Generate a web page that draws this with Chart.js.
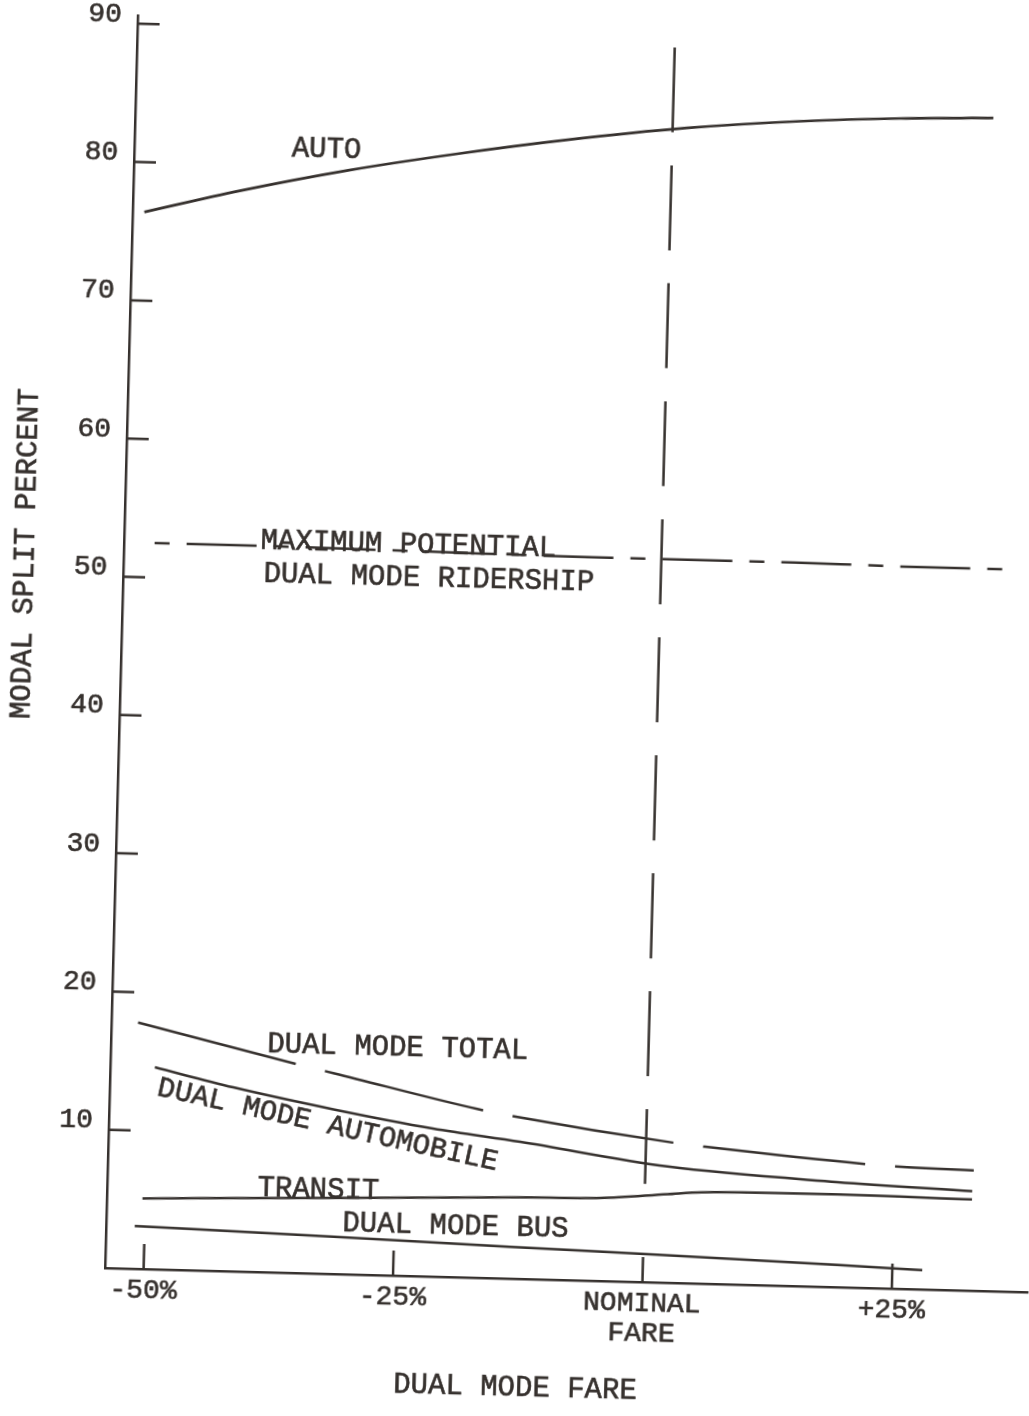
<!DOCTYPE html>
<html>
<head>
<meta charset="utf-8">
<script src="https://cdn.jsdelivr.net/npm/chart.js@4.4.1/dist/chart.umd.min.js"></script>
<style>
  html, body { margin: 0; padding: 0; background: #ffffff; width: 1029px; height: 1416px; overflow: hidden; }
  #wrap { position: absolute; left: -20px; top: 0; width: 1049px; height: 1416px;
          transform-origin: 125px 1268px; transform: rotate(1.5deg); }
  canvas { display: block; }
</style>
</head>
<body>
<div id="wrap"><canvas id="chart" width="1049" height="1416"></canvas></div>
<script>
// ---------------- data ----------------
// x = dual mode fare change in percent (0 = nominal fare), y = modal split percent
const xTickValues = [-50, -25, 0, 25];
const xTickLabels = ['-50%', '-25%', ['NOMINAL', 'FARE'], '+25%'];
const yTickValues = [10, 20, 30, 40, 50, 60, 70, 80, 90];

const autoX = [-52.7, -43.3, -32.4, -21.5, -10.7, 1.4, 12.7, 22.8, 32.1];
const autoY = [76.4, 78.1, 79.8, 81.2, 82.4, 83.5, 84.2, 84.6, 84.8];

const maxPotX = [-50.8, -43.7, -24.2, -6.9, 1.4, 13.3, 25.8, 34.9];
const maxPotY = [52.5, 52.5, 52.4, 52.3, 52.3, 52.3, 52.2, 52.2];

const totalX = [-51.2, -34.6, -31.4, -17.0, -13.9, 3.1, 5.9, 23.2, 26.2, 32.9];
const totalY = [17.8, 15.0, 14.5, 12.2, 11.8, 10.1, 9.9, 8.9, 8.8, 8.7];

const dmAutoX = [-49.4, -41.5, -31.4, -21.4, -12.6, 2.2, 19.2, 32.8];
const dmAutoY = [14.6, 13.3, 11.9, 10.7, 9.9, 8.4, 7.6, 7.2];

const transitX = [-50.3, -31.2, -12.5, -4.4, 2.3, 5.7, 19.3, 32.8];
const transitY = [5.1, 5.5, 5.9, 6.0, 6.4, 6.6, 6.7, 6.6];

const busX = [-51.0, -31.1, -13.4, 1.4, 19.5, 28.0];
const busY = [3.1, 2.7, 2.3, 2.0, 1.6, 1.4];

const nominalX = [0, 0];
const nominalY = [89.3, 7.1];

// curve annotations (text, anchor in data units, angle in degrees)
const noteTexts = ['AUTO', 'MAXIMUM POTENTIAL', 'DUAL MODE RIDERSHIP', 'DUAL MODE TOTAL',
                   'DUAL MODE AUTOMOBILE', 'TRANSIT', 'DUAL MODE BUS'];
const noteAt = [[-38.1, 80.7], [-40.2, 52.3], [-39.8, 49.9], [-38.2, 15.9],
                [-49.2, 12.6], [-38.8, 5.5], [-30.2, 3.1]];
const noteAngle = [0, 0, 0, 0, 11, 0, 0];

const xTitle = 'DUAL MODE FARE';
const yTitle = 'MODAL SPLIT PERCENT';

// ---------------- style ----------------
const INK = '#36312e';
const FAMILY = "'Liberation Mono', 'Courier New', monospace";
Chart.defaults.font.family = FAMILY;
Chart.defaults.color = INK;

const pts = (xs, ys) => xs.map((x, i) => ({ x: x, y: ys[i] }));

function line(label, xs, ys, dash, width) {
  return {
    label: label,
    data: pts(xs, ys),
    borderColor: INK,
    borderWidth: width || 2.5,
    borderDash: dash || [],
    pointRadius: 0,
    fill: false,
    cubicInterpolationMode: 'monotone',
    borderCapStyle: 'butt'
  };
}

function inkText(ctx, t, x, y) {
  ctx.fillText(t, x, y);
  ctx.strokeText(t, x, y);
}

const decorations = {
  id: 'decorations',
  afterDatasetsDraw(chart) {
    const ctx = chart.ctx;
    const xs = chart.scales.x, ys = chart.scales.y;
    const area = chart.chartArea;
    ctx.save();
    // inward tick marks
    ctx.strokeStyle = INK;
    ctx.lineWidth = 2.5;
    ctx.beginPath();
    xTickValues.forEach(v => {
      const px = xs.getPixelForValue(v);
      ctx.moveTo(px, area.bottom);
      ctx.lineTo(px, area.bottom - 25);
    });
    yTickValues.forEach(v => {
      const py = ys.getPixelForValue(v);
      ctx.moveTo(area.left, py);
      ctx.lineTo(area.left + 22, py);
    });
    ctx.stroke();

    // curve annotations
    ctx.fillStyle = INK;
    ctx.strokeStyle = INK;
    ctx.lineWidth = 0.6;
    ctx.font = '29px ' + FAMILY;
    ctx.textAlign = 'left';
    ctx.textBaseline = 'alphabetic';
    noteTexts.forEach((t, i) => {
      const px = xs.getPixelForValue(noteAt[i][0]);
      const py = ys.getPixelForValue(noteAt[i][1]);
      ctx.save();
      ctx.translate(px, py);
      ctx.rotate(noteAngle[i] * Math.PI / 180);
      inkText(ctx, t, 0, 0);
      ctx.restore();
    });

    // axis titles
    ctx.textAlign = 'center';
    ctx.textBaseline = 'middle';
    inkText(ctx, xTitle, area.left + 413, area.bottom + 109);
    ctx.save();
    ctx.translate(area.left - 98, area.bottom - 712);
    ctx.rotate(-Math.PI / 2);
    inkText(ctx, yTitle, 0, 0);
    ctx.restore();
    ctx.restore();
  }
};

new Chart(document.getElementById('chart'), {
  type: 'line',
  data: {
    datasets: [
      line('AUTO', autoX, autoY, [], 2.7),
      line('MAXIMUM POTENTIAL DUAL MODE RIDERSHIP', maxPotX, maxPotY, [15, 17, 70, 17]),
      line('NOMINAL FARE', nominalX, nominalY, [85, 33]),
      line('DUAL MODE TOTAL', totalX, totalY, [163, 30]),
      line('DUAL MODE AUTOMOBILE', dmAutoX, dmAutoY),
      line('TRANSIT', transitX, transitY),
      line('DUAL MODE BUS', busX, busY)
    ]
  },
  options: {
    responsive: false,
    animation: false,
    devicePixelRatio: 1,
    layout: { padding: { left: 0, top: 15, right: 0, bottom: 0 } },
    plugins: { legend: { display: false }, tooltip: { enabled: false }, title: { display: false } },
    scales: {
      x: {
        type: 'linear',
        min: -53.87,
        max: 38.72,
        grid: { display: false, drawTicks: false },
        border: { display: true, color: INK, width: 2.5 },
        afterBuildTicks: s => { s.ticks = xTickValues.map(v => ({ value: v })); },
        afterFit: s => { s.height = 148; s.paddingLeft = 0; s.paddingRight = 0; },
        ticks: {
          autoSkip: false,
          maxRotation: 0,
          minRotation: 0,
          padding: 7,
          color: INK,
          textStrokeColor: INK,
          textStrokeWidth: 0.6,
          font: { size: 28, lineHeight: 1.07 },
          callback: v => xTickLabels[xTickValues.indexOf(v)]
        }
      },
      y: {
        type: 'linear',
        min: 0,
        max: 90.6,
        grid: { display: false, drawTicks: false },
        border: { display: true, color: INK, width: 2.5 },
        afterBuildTicks: s => { s.ticks = yTickValues.map(v => ({ value: v })); },
        afterFit: s => { s.width = 125; s.paddingTop = 0; s.paddingBottom = 0; },
        ticks: {
          padding: 16,
          labelOffset: -9,
          color: INK,
          textStrokeColor: INK,
          textStrokeWidth: 0.6,
          font: { size: 28, lineHeight: 1.0 }
        }
      }
    }
  },
  plugins: [decorations]
});
</script>
</body>
</html>
